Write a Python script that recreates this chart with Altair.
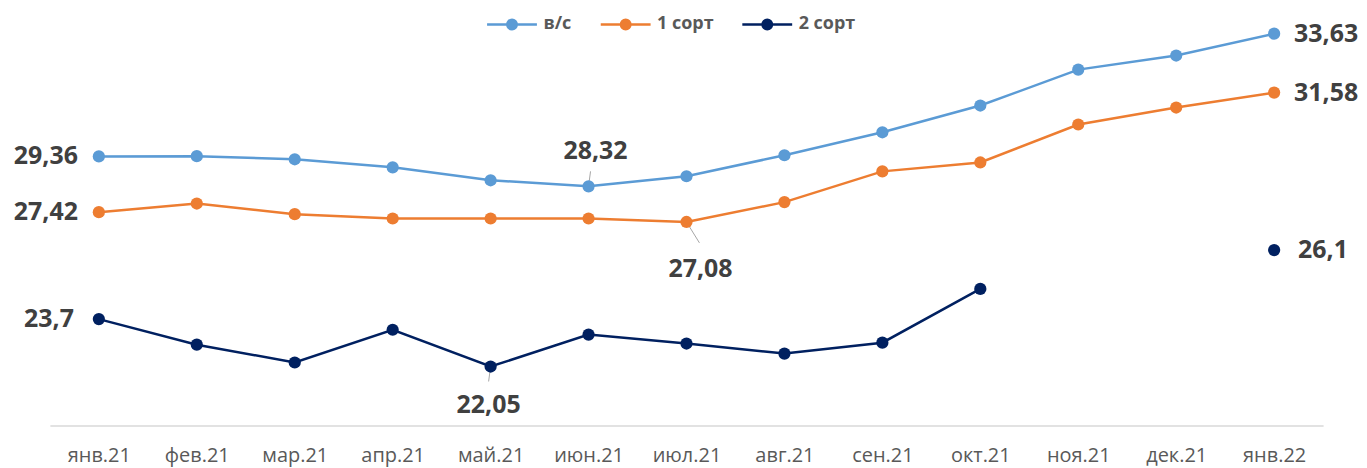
import altair as alt
import pandas as pd

months = ["янв.21", "фев.21", "мар.21", "апр.21", "май.21", "июн.21", "июл.21",
          "авг.21", "сен.21", "окт.21", "ноя.21", "дек.21", "янв.22"]
series_names = ["в/с", "1 сорт", "2 сорт"]
colors = ["#5B9BD5", "#ED7D31", "#002060"]
vs = [29.36, 29.37, 29.26, 28.98, 28.53, 28.32, 28.67, 29.40, 30.20, 31.13, 32.38, 32.87, 33.63]
s1 = [27.42, 27.72, 27.35, 27.20, 27.20, 27.20, 27.08, 27.77, 28.84, 29.15, 30.47, 31.06, 31.58]
s2 = [23.70, 22.81, 22.19, 23.33, 22.05, 23.16, 22.85, 22.50, 22.88, 24.75, None, None, 26.10]

# labelled points: (series, month index, align, dx, dy, leader dx, leader dy)
labels = [
    ("в/с", 0, "right", -21, 0, None, None),
    ("1 сорт", 0, "right", -21, 0, None, None),
    ("2 сорт", 0, "right", -25, 0, None, None),
    ("в/с", 12, "left", 20, 0, None, None),
    ("1 сорт", 12, "left", 20, 0, None, None),
    ("2 сорт", 12, "left", 24, 0, None, None),
    ("в/с", 5, "center", 7, -35, 2, -15),
    ("1 сорт", 6, "center", 14, 47, 13, 21),
    ("2 сорт", 4, "center", -2, 39, -2, 15),
]

W, H = 1277, 418
XDOM = [-0.5, 12.5]
YDOM = [20, 34.5]
PX_X = W / (XDOM[1] - XDOM[0])
PX_Y = H / (YDOM[1] - YDOM[0])

rows = []
for name, vals in zip(series_names, [vs, s1, s2]):
    seg = 0
    for i, v in enumerate(vals):
        if v is None:
            seg += 1
            continue
        rows.append(dict(series=name, idx=i, value=v, key=f"{name}-{seg}"))
df = pd.DataFrame(rows)
vals_by = {n: v for n, v in zip(series_names, [vs, s1, s2])}

label_expr = "[" + ",".join(f"'{m}'" for m in months) + "][datum.value]"

xenc = alt.X("idx:Q", scale=alt.Scale(domain=XDOM, nice=False, zero=False),
             axis=alt.Axis(values=list(range(13)), labelExpr=label_expr, ticks=False,
                           grid=False, domainColor="#d9d9d9", domainWidth=1.5,
                           labelFont="Open Sans", labelFontSize=20, labelColor="#595959",
                           labelPadding=20, labelOverlap=False, labelFlush=False, title=None))
yenc = alt.Y("value:Q", scale=alt.Scale(domain=YDOM, nice=False, zero=False), axis=None)

# legend symbol: a line with a "filled" dot made of concentric rings
legend_path = "M-1,0H1"
for r in [0.04, 0.09, 0.14, 0.19]:
    legend_path += f"M{-r},0A{r},{r} 0 1,0 {r},0A{r},{r} 0 1,0 {-r},0"
legend = alt.Legend(title=None, orient="none", direction="horizontal",
                    legendX=437, legendY=-11, symbolType=legend_path, symbolSize=2500,
                    symbolStrokeWidth=2.5, labelFont="Open Sans", labelFontWeight="bold",
                    labelFontSize=18, labelColor="#595959", labelOffset=5, columnPadding=23,
                    symbolOpacity=1)
color = alt.Color("series:N", scale=alt.Scale(domain=series_names, range=colors), legend=legend)

base = alt.Chart(df)
lines = base.mark_line(strokeWidth=2.5).encode(x=xenc, y=yenc, color=color, detail="key:N")
points = base.mark_point(filled=True, size=150, opacity=1).encode(x=xenc, y=yenc, color=color)

# leader lines
lead_rows = []
for s, i, al, dx, dy, lx, ly in labels:
    if lx is None:
        continue
    v = vals_by[s][i]
    lead_rows.append(dict(idx=i, value=v, idx2=i + lx / PX_X, value2=v - ly / PX_Y))
leaders = alt.Chart(pd.DataFrame(lead_rows)).mark_rule(color="#a6a6a6", strokeWidth=1).encode(
    x=xenc, y=yenc, x2="idx2:Q", y2="value2:Q")

text_layers = []
for s, i, al, dx, dy, lx, ly in labels:
    v = vals_by[s][i]
    t = f"{v:g}".replace(".", ",")
    ldf = pd.DataFrame([dict(idx=i, value=v, text=t)])
    text_layers.append(
        alt.Chart(ldf).mark_text(align=al, baseline="middle", dx=dx, dy=dy, font="Open Sans",
                                 fontWeight="bold", fontSize=25, color="#404040").encode(
            x=xenc, y=yenc, text="text:N"))

chart = alt.layer(leaders, lines, points, *text_layers).properties(
    width=W, height=H,
    padding={"left": 42, "top": 0, "right": 36, "bottom": 44},
    autosize=alt.AutoSizeParams(type="none"),
).configure_view(stroke=None)

chart.save("out.html", embed_options={"renderer": "svg", "actions": False})
